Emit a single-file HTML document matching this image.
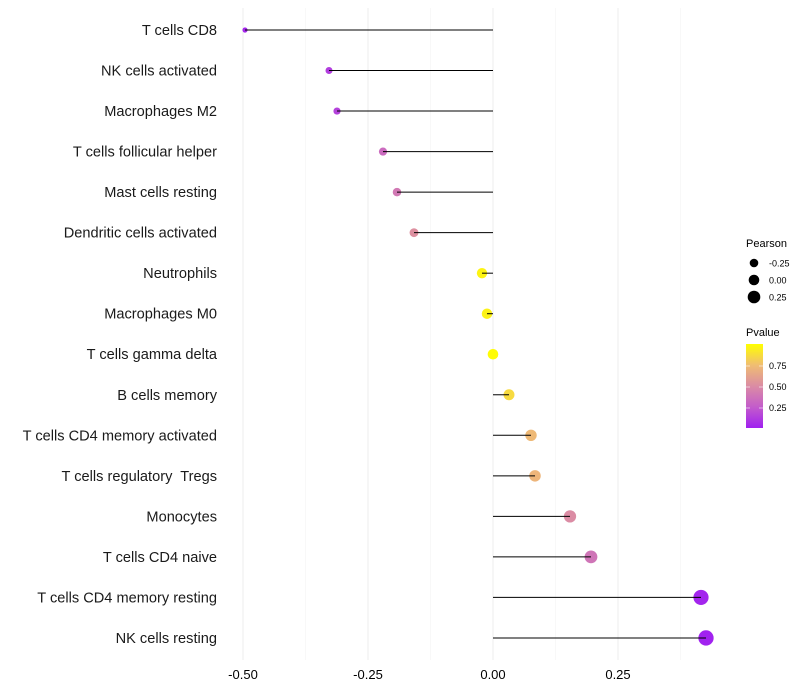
<!DOCTYPE html>
<html><head><meta charset="utf-8">
<style>
html,body{margin:0;padding:0;background:#fff;}
svg{display:block;font-family:"Liberation Sans",sans-serif;}
</style></head>
<body>
<svg id="chart" width="800" height="700" viewBox="0 0 800 700">
<defs>
<linearGradient id="pg" x1="0" y1="1" x2="0" y2="0">
<stop offset="0" stop-color="#a020f0"/>
<stop offset="0.25" stop-color="#c35ccb"/>
<stop offset="0.5" stop-color="#db8ca4"/>
<stop offset="0.75" stop-color="#f0bd72"/>
<stop offset="1" stop-color="#ffff00"/>
</linearGradient>
</defs>
<g id="grid"></g>
<g id="dots"></g>
<g id="marks"></g>
<g id="ylabels"></g>
<g id="xlabels"></g>
<g>
<text x="746" y="247" font-size="11" fill="#000">Pearson</text>
<circle cx="754" cy="263" r="4.3" fill="#000"/>
<text x="769" y="266.5" font-size="9">-0.25</text>
<circle cx="754" cy="280" r="5.3" fill="#000"/>
<text x="769" y="283.5" font-size="9">0.00</text>
<circle cx="754" cy="297" r="6.3" fill="#000"/>
<text x="769" y="300.5" font-size="9">0.25</text>
</g>
<g>
<text x="746" y="336" font-size="11">Pvalue</text>
<rect x="746" y="344" width="17" height="84" fill="url(#pg)"/>
<g stroke="#fff" stroke-width="0.8" opacity="0.7">
<line x1="746" y1="366" x2="750" y2="366"/><line x1="759" y1="366" x2="763" y2="366"/>
<line x1="746" y1="387" x2="750" y2="387"/><line x1="759" y1="387" x2="763" y2="387"/>
<line x1="746" y1="408" x2="750" y2="408"/><line x1="759" y1="408" x2="763" y2="408"/>
</g>
<text x="769" y="369" font-size="9">0.75</text>
<text x="769" y="390" font-size="9">0.50</text>
<text x="769" y="411" font-size="9">0.25</text>
</g>
</svg>
<script>
const categories=["T cells CD8","NK cells activated","Macrophages M2","T cells follicular helper","Mast cells resting","Dendritic cells activated","Neutrophils","Macrophages M0","T cells gamma delta","B cells memory","T cells CD4 memory activated","T cells regulatory  Tregs","Monocytes","T cells CD4 naive","T cells CD4 memory resting","NK cells resting"];
const pearson=[-0.496,-0.328,-0.312,-0.22,-0.192,-0.158,-0.022,-0.012,0.0,0.032,0.076,0.084,0.154,0.196,0.416,0.426];
const pvalues=[0.03,0.12,0.14,0.33,0.4,0.52,0.96,0.95,0.99,0.86,0.73,0.71,0.5,0.38,0.02,0.01];
const xTicks=[-0.5,-0.25,0,0.25];
const xTickLabels=["-0.50","-0.25","0.00","0.25"];
const xMinor=[-0.375,-0.125,0.125,0.375];

const NS="http://www.w3.org/2000/svg";
function x(v){return 493+v*500;}
function y(i){return 30+i*40.53;}
function rad(p){return Math.max(1.5,5.3+5.5*p);}
const stops=[[0,[160,32,240]],[0.25,[195,92,203]],[0.5,[219,140,164]],[0.75,[240,189,114]],[1,[255,255,0]]];
function col(p){for(let k=0;k<stops.length-1;k++){const a=stops[k],b=stops[k+1];if(p<=b[0]){const t=(p-a[0])/(b[0]-a[0]);return "rgb("+a[1].map((c,j)=>Math.round(c+(b[1][j]-c)*t)).join(",")+")";}}return "rgb(255,255,0)";}
function mk(tag,attrs,parent){const e=document.createElementNS(NS,tag);for(const k in attrs)e.setAttribute(k,attrs[k]);parent.appendChild(e);return e;}
const grid=document.getElementById('grid'),marks=document.getElementById('marks'),dots=document.getElementById('dots'),yl=document.getElementById('ylabels'),xl=document.getElementById('xlabels');
xMinor.forEach(v=>{const l=mk('line',{x1:x(v),x2:x(v),y1:8,y2:660,stroke:'#f4f4f4','stroke-width':0.6},grid);

});
xTicks.forEach((v,i)=>{const l=mk('line',{x1:x(v),x2:x(v),y1:8,y2:660,stroke:'#eeeeee','stroke-width':1},grid);


const t=mk('text',{x:x(v),y:679,'font-size':13,'text-anchor':'middle',fill:'#000'},xl);t.textContent=xTickLabels[i];

});
categories.forEach((c,i)=>{const t=mk('text',{x:217,y:y(i)+5,'font-size':14.6,'text-anchor':'end',fill:'#1a1a1a',style:'white-space:pre'},yl);t.textContent=c;


const d=mk('circle',{cx:x(pearson[i]),cy:y(i),r:rad(pearson[i]),fill:col(pvalues[i])},dots);


const l=mk('line',{x1:x(0),x2:x(pearson[i]),y1:y(i),y2:y(i),stroke:'#000','stroke-width':1},marks);

});
</script>
</body></html>
